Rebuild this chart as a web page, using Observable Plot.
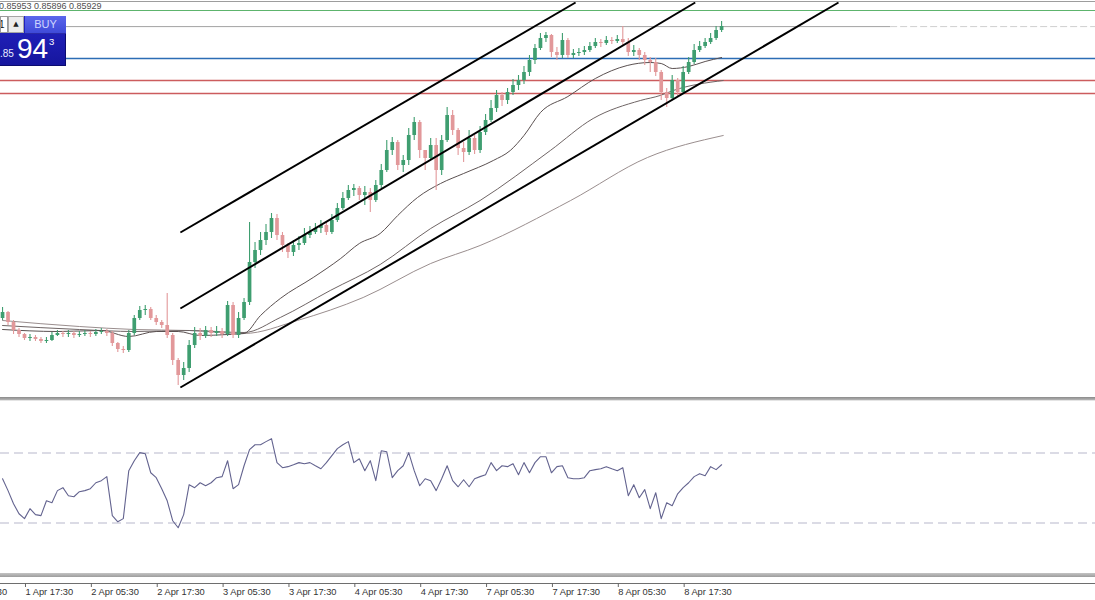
<!DOCTYPE html>
<html><head><meta charset="utf-8">
<script src="https://cdn.jsdelivr.net/npm/d3@7"></script>
<script src="https://cdn.jsdelivr.net/npm/@observablehq/plot@0.6"></script>
<style>
html,body{margin:0;padding:0;background:#fff;}
#wrap{position:relative;width:1095px;height:600px;overflow:hidden;background:#fff;font-family:"Liberation Sans",Arial,sans-serif;}
.abs{position:absolute;}
</style></head><body><div id="wrap"></div>
<script>
// ---- DATA (hourly bars, hour 0 = "1 Apr 17:30") ----
const firstHour = -4;
const firstOpen = 0.8301;
const closes = [
0.8307,0.8297,0.8289,0.8285,0.8281,0.8282,0.8280,0.8278,0.8279,0.8284,
0.8286,0.8285,0.8286,0.8284,0.8285,0.8286,0.8285,0.8287,0.8288,0.8286,
0.8276,0.8270,0.8269,0.8286,0.8301,0.8309,0.8310,0.8301,0.8297,0.8294,
0.8284,0.8259,0.8244,0.8251,0.8274,0.8286,0.8283,0.8289,0.8286,0.8288,
0.8285,0.8314,0.8284,0.8301,0.8317,0.8357,0.8369,0.8379,0.8387,0.8401,
0.8384,0.8374,0.8367,0.8374,0.8376,0.8384,0.8387,0.8391,0.8394,0.8387,
0.8399,0.8411,0.8421,0.8429,0.8431,0.8424,0.8427,0.8419,0.8434,0.8449,
0.8469,0.8477,0.8454,0.8459,0.8484,0.8497,0.8469,0.8461,0.8474,0.8449,
0.8479,0.8504,0.8489,0.8471,0.8467,0.8481,0.8469,0.8487,0.8499,0.8511,
0.8524,0.8519,0.8527,0.8534,0.8539,0.8547,0.8559,0.8571,0.8581,0.8584,
0.8567,0.8564,0.8579,0.8564,0.8566,0.8567,0.8569,0.8573,0.8577,0.8576,
0.8579,0.8578,0.8580,0.8577,0.8567,0.8569,0.8564,0.8559,0.8557,0.8547,
0.8527,0.8521,0.8539,0.8527,0.8547,0.8557,0.8569,0.8573,0.8577,0.8581,0.8589,0.8593];
const highs = [
0.8312,0.8308,0.8299,0.8291,0.8286,0.8285,0.8284,0.8282,0.8282,0.8287,
0.8289,0.8288,0.8289,0.8288,0.8288,0.8289,0.8288,0.8290,0.8291,0.8290,
0.8288,0.8277,0.8273,0.8289,0.8304,0.8313,0.8314,0.8312,0.8304,0.8299,
0.8326,0.8286,0.8261,0.8257,0.8279,0.8292,0.8291,0.8293,0.8292,0.8293,
0.8291,0.8318,0.8317,0.8307,0.8321,0.8397,0.8377,0.8387,0.8395,0.8406,
0.8405,0.8387,0.8376,0.8379,0.8383,0.8391,0.8393,0.8396,0.8399,0.8397,
0.8405,0.8416,0.8427,0.8434,0.8435,0.8433,0.8433,0.8431,0.8439,0.8455,
0.8479,0.8482,0.8479,0.8464,0.8491,0.8502,0.8499,0.8469,0.8481,0.8481,
0.8484,0.8512,0.8509,0.8491,0.8477,0.8489,0.8484,0.8493,0.8505,0.8519,
0.8529,0.8527,0.8531,0.8540,0.8544,0.8553,0.8564,0.8575,0.8586,0.8587,
0.8585,0.8572,0.8586,0.8581,0.8570,0.8571,0.8573,0.8577,0.8581,0.8580,
0.8583,0.8582,0.8584,0.8593,0.8581,0.8574,0.8571,0.8567,0.8562,0.8561,
0.8549,0.8531,0.8544,0.8541,0.8553,0.8562,0.8575,0.8578,0.8581,0.8586,0.8593,0.8598];
const lows = [
0.8299,0.8294,0.8285,0.8282,0.8279,0.8278,0.8278,0.8276,0.8276,0.8278,
0.8283,0.8282,0.8282,0.8281,0.8282,0.8283,0.8282,0.8283,0.8285,0.8283,
0.8273,0.8267,0.8266,0.8267,0.8284,0.8299,0.8304,0.8299,0.8294,0.8291,
0.8281,0.8254,0.8234,0.8239,0.8247,0.8271,0.8279,0.8281,0.8282,0.8283,
0.8281,0.8283,0.8281,0.8281,0.8299,0.8314,0.8351,0.8364,0.8374,0.8381,
0.8379,0.8367,0.8361,0.8363,0.8369,0.8374,0.8381,0.8385,0.8386,0.8384,
0.8385,0.8397,0.8409,0.8419,0.8423,0.8419,0.8414,0.8407,0.8417,0.8431,
0.8447,0.8464,0.8449,0.8447,0.8454,0.8479,0.8461,0.8449,0.8459,0.8429,
0.8444,0.8477,0.8484,0.8464,0.8457,0.8464,0.8465,0.8466,0.8484,0.8497,
0.8507,0.8513,0.8515,0.8524,0.8529,0.8535,0.8543,0.8555,0.8569,0.8577,
0.8562,0.8559,0.8561,0.8561,0.8561,0.8563,0.8564,0.8567,0.8571,0.8572,
0.8574,0.8575,0.8576,0.8574,0.8563,0.8563,0.8559,0.8554,0.8547,0.8543,
0.8519,0.8512,0.8519,0.8523,0.8525,0.8545,0.8555,0.8567,0.8571,0.8575,0.8579,0.8587];
const rsi = [
55.3,48.5,41,35.3,32.5,38.2,34.8,34.2,42.7,41.6,
48.5,50.2,45.6,45,47.9,48.5,49.6,53,54.2,56.5,
34.2,30.7,32.5,59.9,65.6,70.2,69.6,58.7,55.9,49.6,
42.7,31.3,27.3,34.8,51.9,50.2,53,51.3,53,55.9,
56.5,65.6,49.6,51.9,62.7,71.9,74.7,74.7,76.5,78.2,
64.5,61.6,62.2,63.3,64.5,63.9,64.5,62.7,61,64.5,
68.5,72.5,74.7,76.5,64.5,66.7,59.9,65.6,54.2,71.3,
70.7,55.9,59.9,62.7,70.2,59.9,51.3,55.3,54.2,48.5,
55.3,62.7,54.2,50.7,54.7,50.7,55.3,56.5,57.6,64.5,
59.9,62.7,62.2,63.9,57.6,64.5,58.7,64.5,67.9,67.9,
58.7,62.2,62.7,55.9,55.3,55.3,55.9,59.9,60.5,61,
62.2,61,59.9,61.6,45.6,51.9,44.4,49.1,38.2,47.3,
32.5,41.6,39.9,46.7,50.2,53,56.5,58.2,57,62.2,60.5,63.3];
// moving averages (hour, price)
const fastHours = [-4,6,14,19,24,28,32,37,40,43,46.6,52.6,57.6,61,64.8,68,71.6,75.8,80,85.4,88.5,91,94,99,104,109.8,114,116,118,121,124,127];
const fastPrices = [0.8290,0.8288,0.8289,0.8283,0.8288,0.8288,0.8284,0.8285,0.8286,0.8304,0.8321,0.8342,0.8361,0.8376,0.8386,0.8404,0.8422,0.8436,0.8446,0.8459,0.8469,0.8484,0.8507,0.8523,0.8541,0.8554,0.8557,0.8556,0.8551,0.8553,0.8558,0.8562];
const midHours = [-4,10,20,30,40,46.6,55.7,64.8,74,83,95.8,103.6,112.2,115.8,118.2,127.3];
const midPrices = [0.8294,0.8290,0.8288,0.8289,0.8287,0.8302,0.8329,0.8355,0.8391,0.8419,0.8469,0.8501,0.8519,0.8524,0.8529,0.8539];
const slowHours = [-4,10,20,30,40,49.7,61.7,74,83,99.5,113.5,127.3];
const slowPrices = [0.8299,0.8293,0.8290,0.8289,0.8286,0.8299,0.8322,0.8356,0.8374,0.8419,0.8462,0.8484];
// channel trend lines
const channelStartHours = [28.4,28.4,28.4];
const channelStartPrices = [0.8387,0.8311,0.8232];
const channelEndHours = [100.4,122.2,148.3];
const channelEndPrices = [0.8617,0.8617,0.8617];
// horizontal levels
const greenLevels = [0.8609];
const bidLevels = [0.85929];
const blueLevels = [0.8561];
const redLevels = [0.8539,0.8526];
const rsiLevels = [70,30];
const headerValues = ["0.85953","0.85896","0.85929"];
// time axis
const tickHours = [-12,0,12,24,36,48,60,72,84,96,108,120];
const tickLabels = ["1 Apr 05:30","1 Apr 17:30","2 Apr 05:30","2 Apr 17:30","3 Apr 05:30","3 Apr 17:30","4 Apr 05:30","4 Apr 17:30","7 Apr 05:30","7 Apr 17:30","8 Apr 05:30","8 Apr 17:30"];

// ---- BUILD ----
const xDomain = [-4.372, 195.12];
const bidLineEnd = 157.8;
const bars = closes.map((c,i)=>({t: firstHour+i, open: i===0?firstOpen:closes[i-1], close:c, high:highs[i], low:lows[i]}));
const rsiData = rsi.map((v,i)=>({t: firstHour+i, v}));
const toPts = (hs,ps)=>hs.map((t,i)=>({t,p:ps[i]}));
const channels = channelStartHours.map((t,i)=>({t1:t,p1:channelStartPrices[i],t2:channelEndHours[i],p2:channelEndPrices[i]}));
const labelOf = new Map(tickHours.map((h,i)=>[h,tickLabels[i]]));
const UP="#3f9e70", DOWN="#e2989a";
const col = d => d.close >= d.open ? UP : DOWN;

const wrap = document.getElementById("wrap");
function place(node, top){ node.style.position="absolute"; node.style.left="0px"; node.style.top=top+"px"; wrap.appendChild(node); }

const main = Plot.plot({
  width:1095, height:398, margin:0,
  x:{domain:xDomain, axis:null},
  y:{domain:[0.8221,0.8619], axis:null},
  color:{type:"identity"},
  marks:[
    Plot.ruleY(greenLevels,{stroke:"#5db46d", strokeWidth:1.2}),
    Plot.ruleY(bidLevels,{x1:()=>xDomain[0], x2:()=>bidLineEnd, stroke:"#a3a3a3", strokeWidth:1}),
    Plot.ruleY(bidLevels,{x1:()=>bidLineEnd, x2:()=>xDomain[1], stroke:"#cfcfcf", strokeWidth:1, strokeDasharray:"7,3"}),
    Plot.ruleY(blueLevels,{stroke:"#2c6db5", strokeWidth:1.6}),
    Plot.ruleY(redLevels,{stroke:"#c64a4c", strokeWidth:1.6, strokeOpacity:0.9}),
    Plot.line(toPts(slowHours,slowPrices),{x:"t",y:"p",stroke:"#9a8e8e",strokeWidth:1,curve:"monotone-x"}),
    Plot.line(toPts(midHours,midPrices),{x:"t",y:"p",stroke:"#6f6565",strokeWidth:1,curve:"monotone-x"}),
    Plot.line(toPts(fastHours,fastPrices),{x:"t",y:"p",stroke:"#5a5050",strokeWidth:1,curve:"monotone-x"}),
    Plot.ruleX(bars,{x:"t",y1:"low",y2:"high",stroke:col,strokeWidth:1.1}),
    Plot.ruleX(bars,{x:"t",y1:"open",y2:"close",stroke:col,strokeWidth:3.7}),
    Plot.link(channels,{x1:"t1",y1:"p1",x2:"t2",y2:"p2",stroke:"#000",strokeWidth:2})
  ]
});
place(main,0);

const rsiPlot = Plot.plot({
  width:1095, height:175, margin:0,
  x:{domain:xDomain, axis:null},
  y:{domain:[0,100], axis:null},
  marks:[
    Plot.ruleY(rsiLevels,{stroke:"#b7b7cb", strokeWidth:1, strokeDasharray:"9,5"}),
    Plot.line(rsiData,{x:"t",y:"v",stroke:"#63638f",strokeWidth:1.1})
  ]
});
place(rsiPlot,400);

const axisPlot = Plot.plot({
  width:1095, height:25, marginTop:8, marginBottom:17, marginLeft:0, marginRight:0,
  x:{domain:xDomain, axis:null},
  y:{domain:[0,1], axis:null},
  style:{fontFamily:"Liberation Sans, Arial, sans-serif", fontSize:"9.3px", color:"#333"},
  marks:[
    Plot.ruleY([0],{stroke:"#6e6e6e", strokeWidth:1}),
    Plot.axisX(tickHours,{anchor:"bottom", tickSize:4, tickPadding:1, tickFormat:d=>labelOf.get(d), textAnchor:"start", dx:1, fontSize:9.3, stroke:"#666"})
  ]
});
place(axisPlot,575);

function div(css, html){ const d=document.createElement("div"); d.style.cssText="position:absolute;"+css; if(html!==undefined) d.innerHTML=html; wrap.appendChild(d); return d; }
// frame & separators
div("left:0;top:1px;width:1095px;height:1px;background:#9d9d9d;");
div("left:0;top:397px;width:1095px;height:3px;background:linear-gradient(#8a8a8a,#b5b5b5);");
div("left:0;top:400px;width:1095px;height:1px;background:#e4e4e4;");
div("left:0;top:573px;width:1095px;height:4px;background:linear-gradient(#c4c4c4,#9d9d9d);");
// header values
div("left:-1px;top:2px;font:9px 'Liberation Sans',Arial,sans-serif;color:#4e4e4e;white-space:pre;line-height:9px;", headerValues.join(" "));
// BUY box
div("left:0;top:16px;width:66px;height:50px;background:linear-gradient(#2424c4,#16169e);border-right:1px solid #0c0c70;border-bottom:1px solid #0c0c70;box-sizing:border-box;");
div("left:0;top:16px;width:8px;height:17px;background:#fff;border:1px solid #9a9a9a;box-sizing:border-box;font:10px 'Liberation Sans',Arial;color:#111;line-height:15px;overflow:hidden;", "<span style='margin-left:-2px'>1</span>");
div("left:8px;top:16px;width:16px;height:17px;background:#ececec;border:1px solid #a5a5a5;box-sizing:border-box;font:7px 'DejaVu Sans',sans-serif;color:#222;text-align:center;line-height:15px;", "▲");
div("left:25px;top:16px;width:41px;height:18px;background:linear-gradient(#5a66ec,#3f4ad8);border-bottom:1px solid #2a2aa8;box-sizing:border-box;font:11px 'Liberation Sans',Arial;color:#cfd6ff;text-align:center;line-height:17px;", "BUY");
div("left:0;top:49px;font:10px 'Liberation Sans',Arial;color:#e8ecff;line-height:10px;", ".85");
div("left:17px;top:35px;font:28px 'Liberation Sans',Arial;color:#ffffff;line-height:28px;", "94");
div("left:49px;top:37px;font:9.5px 'Liberation Sans',Arial;color:#ffffff;line-height:10px;", "3");
</script></body></html>
